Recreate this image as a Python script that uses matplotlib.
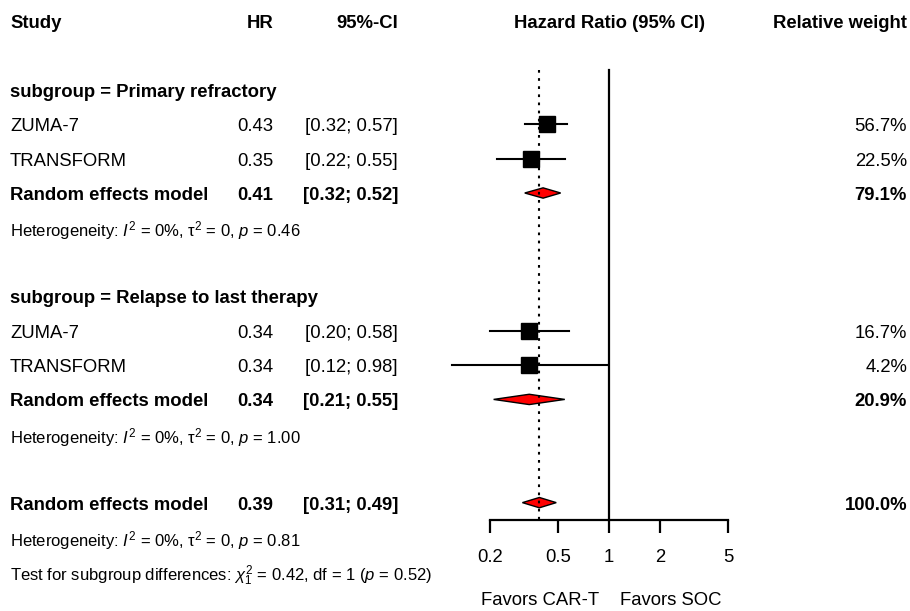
import matplotlib
matplotlib.use('Agg')
import matplotlib.pyplot as plt
from matplotlib.patches import Polygon

plt.rcParams['font.family'] = ['Liberation Sans', 'DejaVu Sans']
plt.rcParams['mathtext.fontset'] = 'custom'
plt.rcParams['mathtext.rm'] = 'Liberation Sans'
plt.rcParams['mathtext.it'] = 'Liberation Sans:italic'
plt.rcParams['mathtext.bf'] = 'Liberation Sans:bold'

# study level data
studies = ['ZUMA-7', 'TRANSFORM', 'ZUMA-7', 'TRANSFORM']
study_rows = [3, 4, 9, 10]
hr = [0.43, 0.35, 0.34, 0.34]
ci_lo = [0.32, 0.22, 0.20, 0.12]
ci_hi = [0.57, 0.55, 0.58, 0.98]
weights = ['56.7%', '22.5%', '16.7%', '4.2%']

# subgroup / pooled estimates
subgroups = ['subgroup = Primary refractory', 'subgroup = Relapse to last therapy']
subgroup_rows = [2, 8]
pooled_rows = [5, 11, 14]
pooled_hr = [0.41, 0.34, 0.39]
pooled_lo = [0.32, 0.21, 0.31]
pooled_hi = [0.52, 0.55, 0.49]
pooled_w = ['79.1%', '20.9%', '100.0%']

het_rows = [6, 12, 15]
het_p = ['0.46', '1.00', '0.81']
test_text = r'Test for subgroup differences: $\chi^2_1$ = 0.42, df = 1 ($p$ = 0.52)'

ticks = [0.2, 0.5, 1, 2, 5]
tick_labels = ['0.2', '0.5', '1', '2', '5']

FS = 13.3
FS_SMALL = 12
DY = 0.07  # text nudge so glyphs sit on the row centre

fig = plt.figure(figsize=(9.1, 6.11), dpi=100)
tax = fig.add_axes([0, 0, 1, 1])
tax.set_xlim(0, 910)
tax.set_ylim(17.15, -0.61)
tax.axis('off')

fax = fig.add_axes([490 / 910, 0, 238 / 910, 1], sharey=tax)
fax.patch.set_visible(False)
fax.set_xscale('log')
fax.set_xlim(0.2, 5)
for s in ['top', 'left', 'right']:
    fax.spines[s].set_visible(False)
fax.spines['bottom'].set_position(('data', 14.5))
fax.spines['bottom'].set_linewidth(1.6)
fax.set_xticks(ticks)
fax.set_xticklabels(tick_labels)
fax.minorticks_off()
fax.tick_params(axis='x', direction='out', length=9.5, width=1.6, pad=11.3, labelsize=FS)
fax.tick_params(axis='y', left=False, labelleft=False)
fax.set_ylim(17.15, -0.61)

# reference lines
fax.plot([1, 1], [1.42, 14.5], color='black', lw=1.6)
fax.plot([pooled_hr[2]] * 2, [1.42, 14.5], color='black', lw=1.5,
         linestyle=(0, (1.3, 2.6)))

# headers
tax.text(10, DY, 'Study', ha='left', va='center', fontsize=FS, fontweight='bold')
tax.text(273, DY, 'HR', ha='right', va='center', fontsize=FS, fontweight='bold')
tax.text(398, DY, '95%-CI', ha='right', va='center', fontsize=FS, fontweight='bold')
fax.text(1, DY, 'Hazard Ratio (95% CI)', ha='center', va='center', fontsize=FS,
         fontweight='bold')
tax.text(907, DY, 'Relative weight', ha='right', va='center', fontsize=FS, fontweight='bold')

for name, r in zip(subgroups, subgroup_rows):
    tax.text(10, r + DY, name, ha='left', va='center', fontsize=FS, fontweight='bold')

# individual studies
for name, r, h, lo, hi, w in zip(studies, study_rows, hr, ci_lo, ci_hi, weights):
    tax.text(10, r + DY, name, ha='left', va='center', fontsize=FS)
    tax.text(273, r + DY, f'{h:.2f}', ha='right', va='center', fontsize=FS)
    tax.text(398, r + DY, f'[{lo:.2f}; {hi:.2f}]', ha='right', va='center', fontsize=FS)
    tax.text(907, r + DY, w, ha='right', va='center', fontsize=FS)
    fax.plot([lo, hi], [r, r], color='black', lw=1.5, clip_on=False)
    fax.plot([h], [r], marker='s', markersize=11.5, color='black', clip_on=False)

# pooled estimates
for r, h, lo, hi, w in zip(pooled_rows, pooled_hr, pooled_lo, pooled_hi, pooled_w):
    tax.text(10, r + DY, 'Random effects model', ha='left', va='center', fontsize=FS,
             fontweight='bold')
    tax.text(273, r + DY, f'{h:.2f}', ha='right', va='center', fontsize=FS,
             fontweight='bold')
    tax.text(398, r + DY, f'[{lo:.2f}; {hi:.2f}]', ha='right', va='center', fontsize=FS,
             fontweight='bold')
    tax.text(907, r + DY, w, ha='right', va='center', fontsize=FS, fontweight='bold')
    d = 0.15
    diamond = Polygon([[lo, r], [h, r - d], [hi, r], [h, r + d]], closed=True,
                      facecolor='red', edgecolor='black', lw=1.0, clip_on=False)
    fax.add_patch(diamond)

# heterogeneity lines
for r, p in zip(het_rows, het_p):
    tax.text(10, r + 0.1, f'Heterogeneity: $I^2$ = 0%, τ$^2$ = 0, $p$ = {p}',
             ha='left', va='center', fontsize=FS_SMALL)
tax.text(10, 16.12, test_text, ha='left', va='center', fontsize=FS_SMALL)

# direction labels
fax.text(0.873, 16.84, 'Favors CAR-T', ha='right', va='center', fontsize=FS)
fax.text(1.16, 16.84, 'Favors SOC', ha='left', va='center', fontsize=FS)

fig.savefig('out.png', dpi=100)
